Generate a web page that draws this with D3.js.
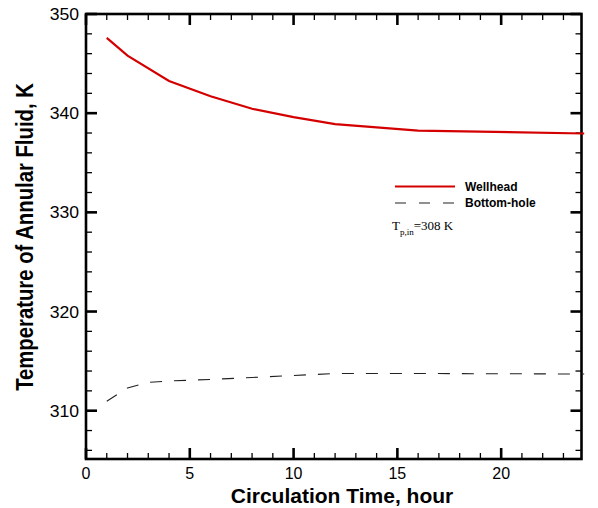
<!DOCTYPE html>
<html lang="en">
<head>
<meta charset="UTF-8">
<title>Annular fluid temperature</title>
<script src="https://d3js.org/d3.v7.min.js"></script>
<style>
  body { margin: 0; background: #fff; }
  svg { display: block; }
</style>
</head>
<body>
<svg width="598" height="508"></svg>
<script>
// circulation time (hour) and temperature (K)
let wellheadTime = [1, 2, 4, 6, 8, 10, 12, 16, 24]
let wellheadTemp = [347.6, 345.8, 343.25, 341.7, 340.45, 339.6, 338.9, 338.25, 337.95]
let bottomTime = [1, 2, 3, 4, 6, 8, 10, 12, 16, 24]
let bottomTemp = [310.95, 312.3, 312.85, 313.0, 313.15, 313.35, 313.55, 313.75, 313.75, 313.7]
let xTicks = [0, 5, 10, 15, 20]
let yTicks = [310, 320, 330, 340, 350]
let seriesNames = ["Wellhead", "Bottom-hole"]

let svg = d3.select("svg")
let pLeft = 86, pRight = 581.5, pTop = 14, pBottom = 459

let x = d3.scaleLinear().domain([0, 23.87]).range([pLeft, pRight])
let y = d3.scaleLinear().domain([305.13, 350]).range([pBottom, pTop])

// ticks, inward on all four sides
let xMinor = d3.range(0, 24, 1).filter(function (d) { return d % 5 != 0 })
let yMinor = d3.range(306, 350, 2).filter(function (d) { return d % 10 != 0 })

function addTicks(vals, scale, side, len, w) {
    let g = svg.append("g").attr("stroke", "#000").attr("stroke-width", w)
    vals.forEach(function (v) {
        let p = scale(v)
        if (side == "bottom") g.append("line").attr("x1", p).attr("x2", p).attr("y1", pBottom).attr("y2", pBottom - len)
        if (side == "top") g.append("line").attr("x1", p).attr("x2", p).attr("y1", pTop).attr("y2", pTop + len)
        if (side == "left") g.append("line").attr("y1", p).attr("y2", p).attr("x1", pLeft).attr("x2", pLeft + len)
        if (side == "right") g.append("line").attr("y1", p).attr("y2", p).attr("x1", pRight).attr("x2", pRight - len)
    })
}
addTicks(xMinor, x, "bottom", 6, 1.3)
addTicks(xMinor, x, "top", 6, 1.3)
addTicks(xTicks, x, "bottom", 11, 2.6)
addTicks(xTicks, x, "top", 11, 2.6)
addTicks(yMinor, y, "left", 6, 1.3)
addTicks(yMinor, y, "right", 6, 1.3)
addTicks(yTicks, y, "left", 11, 2.6)
addTicks(yTicks, y, "right", 11, 2.6)

// frame
svg.append("rect")
    .attr("x", pLeft).attr("y", pTop)
    .attr("width", pRight - pLeft).attr("height", pBottom - pTop)
    .attr("fill", "none").attr("stroke", "#000").attr("stroke-width", 2.6)

// tick labels
svg.append("g").selectAll("text").data(xTicks).enter().append("text")
    .attr("x", function (d) { return x(d) }).attr("y", pBottom + 20)
    .attr("text-anchor", "middle")
    .style("font", "16px 'Liberation Sans', Arial, sans-serif")
    .text(function (d) { return d })
svg.append("g").selectAll("text").data(yTicks).enter().append("text")
    .attr("transform", function (d) { return "translate(" + (pLeft - 7) + "," + (y(d) + 6) + ") scale(1.1,1)" })
    .attr("text-anchor", "end")
    .style("font", "16px 'Liberation Sans', Arial, sans-serif")
    .text(function (d) { return d })

// axis titles
svg.append("text")
    .attr("x", 342).attr("y", 503)
    .attr("text-anchor", "middle")
    .style("font", "bold 21px 'Liberation Sans', Arial, sans-serif")
    .text("Circulation Time, hour")
svg.append("text")
    .attr("transform", "translate(33,237) rotate(-90) scale(1,1.17)")
    .attr("text-anchor", "middle")
    .style("font", "bold 20.3px 'Liberation Sans', Arial, sans-serif")
    .text("Temperature of Annular Fluid, K")

// curves
let line = d3.line()
    .x(function (d) { return x(d[0]) })
    .y(function (d) { return y(d[1]) })

svg.append("path")
    .datum(d3.zip(wellheadTime, wellheadTemp))
    .attr("d", line)
    .attr("fill", "none").attr("stroke", "#d40000").attr("stroke-width", 2.2)
svg.append("path")
    .datum(d3.zip(bottomTime, bottomTemp))
    .attr("d", line)
    .attr("fill", "none").attr("stroke", "#222").attr("stroke-width", 1.1)
    .attr("stroke-dasharray", "12,12")

// legend
let legend = svg.append("g")
legend.append("line").attr("x1", 395).attr("x2", 455).attr("y1", 186.5).attr("y2", 186.5)
    .attr("stroke", "#d40000").attr("stroke-width", 2.2)
legend.append("line").attr("x1", 395).attr("x2", 455).attr("y1", 203).attr("y2", 203)
    .attr("stroke", "#222").attr("stroke-width", 1.1).attr("stroke-dasharray", "11,13")
legend.selectAll(".lab").data(seriesNames).enter().append("text")
    .attr("x", 465).attr("y", function (d, i) { return 191 + i * 16 })
    .style("font", "bold 12px 'Liberation Sans', Arial, sans-serif")
    .text(function (d) { return d })

let note = legend.append("text").attr("x", 392).attr("y", 230)
    .style("font", "13px 'Liberation Serif', 'Times New Roman', serif")
note.append("tspan").text("T")
note.append("tspan").attr("dy", 5).style("font-size", "9px").text("p,in")
note.append("tspan").attr("dy", -5).text("=308 K")
</script>
</body>
</html>
